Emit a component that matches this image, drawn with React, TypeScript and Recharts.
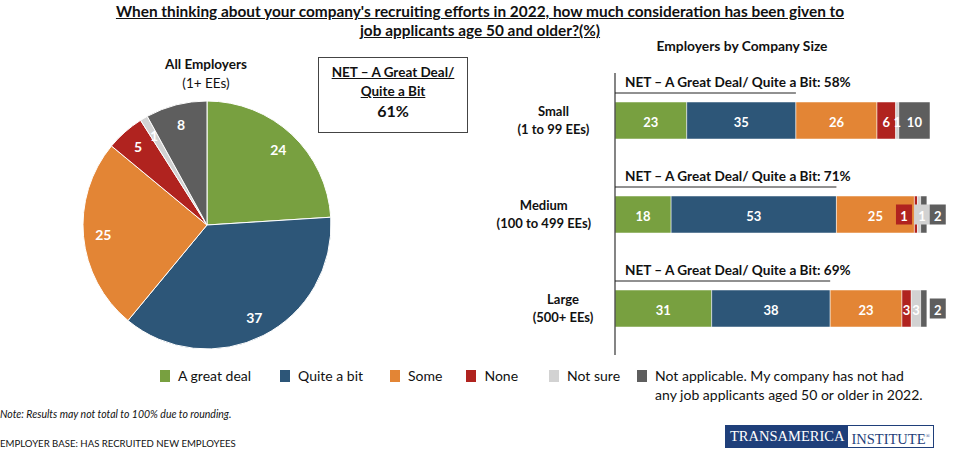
import React from 'react';
import { PieChart, Pie, Cell, BarChart, Bar, XAxis, YAxis, LabelList } from 'recharts';

const FONT = 'Lato, "Open Sans", sans-serif';

const SERIES = ['A great deal', 'Quite a bit', 'Some', 'None', 'Not sure', 'Not applicable'];
const COLORS = ['#78A040', '#2D5678', '#E38535', '#B0231F', '#D2D2D2', '#5E5E5E'];

// All employers (1+ EEs)
const pieValues = [24, 37, 25, 5, 1, 8];
const pieNet = 61;

// Employers by company size
const sizes = ['Small', 'Medium', 'Large'];
const sizeRanges = ['(1 to 99 EEs)', '(100 to 499 EEs)', '(500+ EEs)'];
const greatDeal = [23, 18, 31];
const quiteABit = [35, 53, 38];
const some = [26, 25, 23];
const none = [6, 1, 3];
const notSure = [1, 1, 3];
const notApplicable = [10, 2, 2];
const netBySize = [58, 71, 69];

const KEYS = ['greatDeal', 'quiteABit', 'some', 'none', 'notSure', 'notApplicable'];

const pieData = SERIES.map((name, i) => ({ name, value: pieValues[i] }));

const barData = sizes.map((size, i) => ({
  size,
  range: sizeRanges[i],
  net: netBySize[i],
  greatDeal: greatDeal[i],
  quiteABit: quiteABit[i],
  some: some[i],
  none: none[i],
  notSure: notSure[i],
  notApplicable: notApplicable[i],
}));

const RADIAN = Math.PI / 180;

const renderPieLabel = (props: any) => {
  const { cx, cy, midAngle, outerRadius, value } = props;
  const r = outerRadius * 0.84;
  const x = cx + r * Math.cos(-midAngle * RADIAN);
  const y = cy + r * Math.sin(-midAngle * RADIAN);
  return (
    <text x={x} y={y} fill="#fff" textAnchor="middle" dominantBaseline="central"
      fontFamily={FONT} fontWeight={700} fontSize={14}>
      {value}
    </text>
  );
};

const CategoryTick = (props: any) => {
  const { x, y, payload, index } = props;
  const range = sizeRanges[index] || '';
  const cx = x - 12 - range.length * 3.2;
  return (
    <g>
      <text x={cx} y={y - 4} textAnchor="middle" fontFamily={FONT} fontWeight={700} fontSize={13} fill="#111">
        {payload.value}
      </text>
      <text x={cx} y={y + 14} textAnchor="middle" fontFamily={FONT} fontWeight={700} fontSize={13} fill="#111">
        {range}
      </text>
    </g>
  );
};

// NET heading above each bar, underline runs to the end of the "quite a bit" segment
const NetLabel = (props: any) => {
  const { x, y, width, height, value, index } = props;
  const net = netBySize[index];
  const endX = x + (width / value) * net;
  return (
    <g>
      <text x={x + 10} y={y - 15} fontFamily={FONT} fontWeight={700} fontSize={13.6} fill="#111">
        {`NET – A Great Deal/ Quite a Bit: ${net}%`}
      </text>
      <line x1={x} x2={endX} y1={y - 9} y2={y - 9} stroke="#222" strokeWidth={1} />
      <text x={x + width / 2} y={y + height / 2 + 1} textAnchor="middle" dominantBaseline="central"
        fontFamily={FONT} fontWeight={700} fontSize={13} fill="#fff">
        {value}
      </text>
    </g>
  );
};

const CALLOUT_SHIFT: Record<string, number> = { none: -12, notSure: 3, notApplicable: 14 };

const makeValueLabel = (key: string, color: string) => (props: any) => {
  const { x, y, width, height, value, index } = props;
  const cx = x + width / 2;
  const cy = y + height / 2;
  const crowded = notApplicable[index] <= 2 && width < 8;
  if (crowded) {
    const bx = cx + (CALLOUT_SHIFT[key] || 0);
    return (
      <g>
        <rect x={bx - 8} y={cy - 10} width={16} height={20} fill={color} />
        <text x={bx} y={cy + 1} textAnchor="middle" dominantBaseline="central" fontFamily={FONT}
          fontWeight={700} fontSize={13} fill="#fff">
          {value}
        </text>
      </g>
    );
  }
  return (
    <text x={cx} y={cy + 1} textAnchor="middle" dominantBaseline="central" fontFamily={FONT}
      fontWeight={700} fontSize={13} fill="#fff">
      {value}
    </text>
  );
};

const abs = (left: number, top: number, extra: React.CSSProperties = {}): React.CSSProperties => ({
  position: 'absolute', left, top, ...extra,
});

const LEGEND_GAPS = [29, 27, 24, 31, 17, 0];

export default function App() {
  return (
    <div style={{ position: 'absolute', left: 0, top: 0, width: 960, height: 450, background: '#fff',
      fontFamily: FONT, color: '#111', overflow: 'hidden' }}>
      <div style={abs(0, 2, { width: 960, textAlign: 'center', fontWeight: 700, fontSize: 15.4,
        lineHeight: '19px', textDecoration: 'underline' })}>
        When thinking about your company's recruiting efforts in 2022, how much consideration has been given to
        <br />job applicants age 50 and older?(%)
      </div>

      <div style={abs(106, 55, { width: 200, textAlign: 'center', fontSize: 13.5, lineHeight: '19px' })}>
        <b>All Employers</b><br />(1+ EEs)
      </div>

      <div style={abs(318, 57, { width: 148, height: 69, border: '1.5px solid #444', textAlign: 'center',
        fontWeight: 700, fontSize: 13.5, lineHeight: '19px', paddingTop: 5, boxSizing: 'content-box' })}>
        <span style={{ textDecoration: 'underline' }}>NET – A Great Deal/</span><br />
        <span style={{ textDecoration: 'underline' }}>Quite a Bit</span><br />
        <span style={{ fontSize: 16 }}>{pieNet}%</span>
      </div>

      <div style={abs(597, 37, { width: 290, textAlign: 'center', fontWeight: 700, fontSize: 13.8 })}>
        Employers by Company Size
      </div>

      <div style={abs(0, 0)}>
        <PieChart width={420} height={450}>
          <Pie data={pieData} dataKey="value" nameKey="name" cx={202} cy={220} outerRadius={124}
            startAngle={90} endAngle={-270} stroke="#fff" strokeWidth={1} labelLine={false}
            label={renderPieLabel} isAnimationActive={false}>
            {pieData.map((entry, i) => (
              <Cell key={`cell-${i}`} fill={COLORS[i]} />
            ))}
          </Pie>
        </PieChart>
      </div>

      <div style={abs(480, 0)}>
        <BarChart width={480} height={450} data={barData} layout="vertical" barSize={37}
          margin={{ top: 73, right: 30, bottom: 95, left: 0 }}>
          <XAxis type="number" domain={[0, 101]} hide />
          <YAxis type="category" dataKey="size" width={135} tickLine={false}
            axisLine={{ stroke: '#333', strokeWidth: 1.2 }} tick={<CategoryTick />} />
          {KEYS.map((key, i) => (
            <Bar key={key} dataKey={key} stackId="a" fill={COLORS[i]} name={SERIES[i]}
              stroke="#fff" strokeWidth={0.5} isAnimationActive={false}>
              <LabelList dataKey={key} content={i === 0 ? <NetLabel /> : makeValueLabel(key, COLORS[i])} />
            </Bar>
          ))}
        </BarChart>
      </div>

      <div style={abs(160, 366, { display: 'flex', alignItems: 'flex-start', fontSize: 14, lineHeight: '19px' })}>
        {SERIES.map((name, i) => (
          <div key={name} style={{ display: 'flex', alignItems: 'flex-start', marginRight: LEGEND_GAPS[i] }}>
            <div style={{ width: 10, height: 12, background: COLORS[i], marginTop: 4, marginRight: 8 }} />
            <div>
              {i === 5 ? (
                <>Not applicable. My company has not had<br />any job applicants aged 50 or older in 2022.</>
              ) : name}
            </div>
          </div>
        ))}
      </div>

      <div style={abs(0, 408, { fontSize: 10.5, fontStyle: 'italic' })}>
        Note: Results may not total to 100% due to rounding.
      </div>
      <div style={abs(0, 438, { fontSize: 9.6 })}>
        EMPLOYER BASE: HAS RECRUITED NEW EMPLOYEES
      </div>

      <div style={abs(725, 425, { display: 'flex', height: 21, border: '1px solid #1F3F7A',
        fontFamily: '"Liberation Serif", serif', fontSize: 14.5, lineHeight: '21px' })}>
        <div style={{ background: '#1F3F7A', color: '#fff', padding: '0 4px' }}>TRANSAMERICA</div>
        <div style={{ color: '#1F3F7A', padding: '0 3px' }}>INSTITUTE<sup style={{ fontSize: 6 }}>®</sup></div>
      </div>
    </div>
  );
}
